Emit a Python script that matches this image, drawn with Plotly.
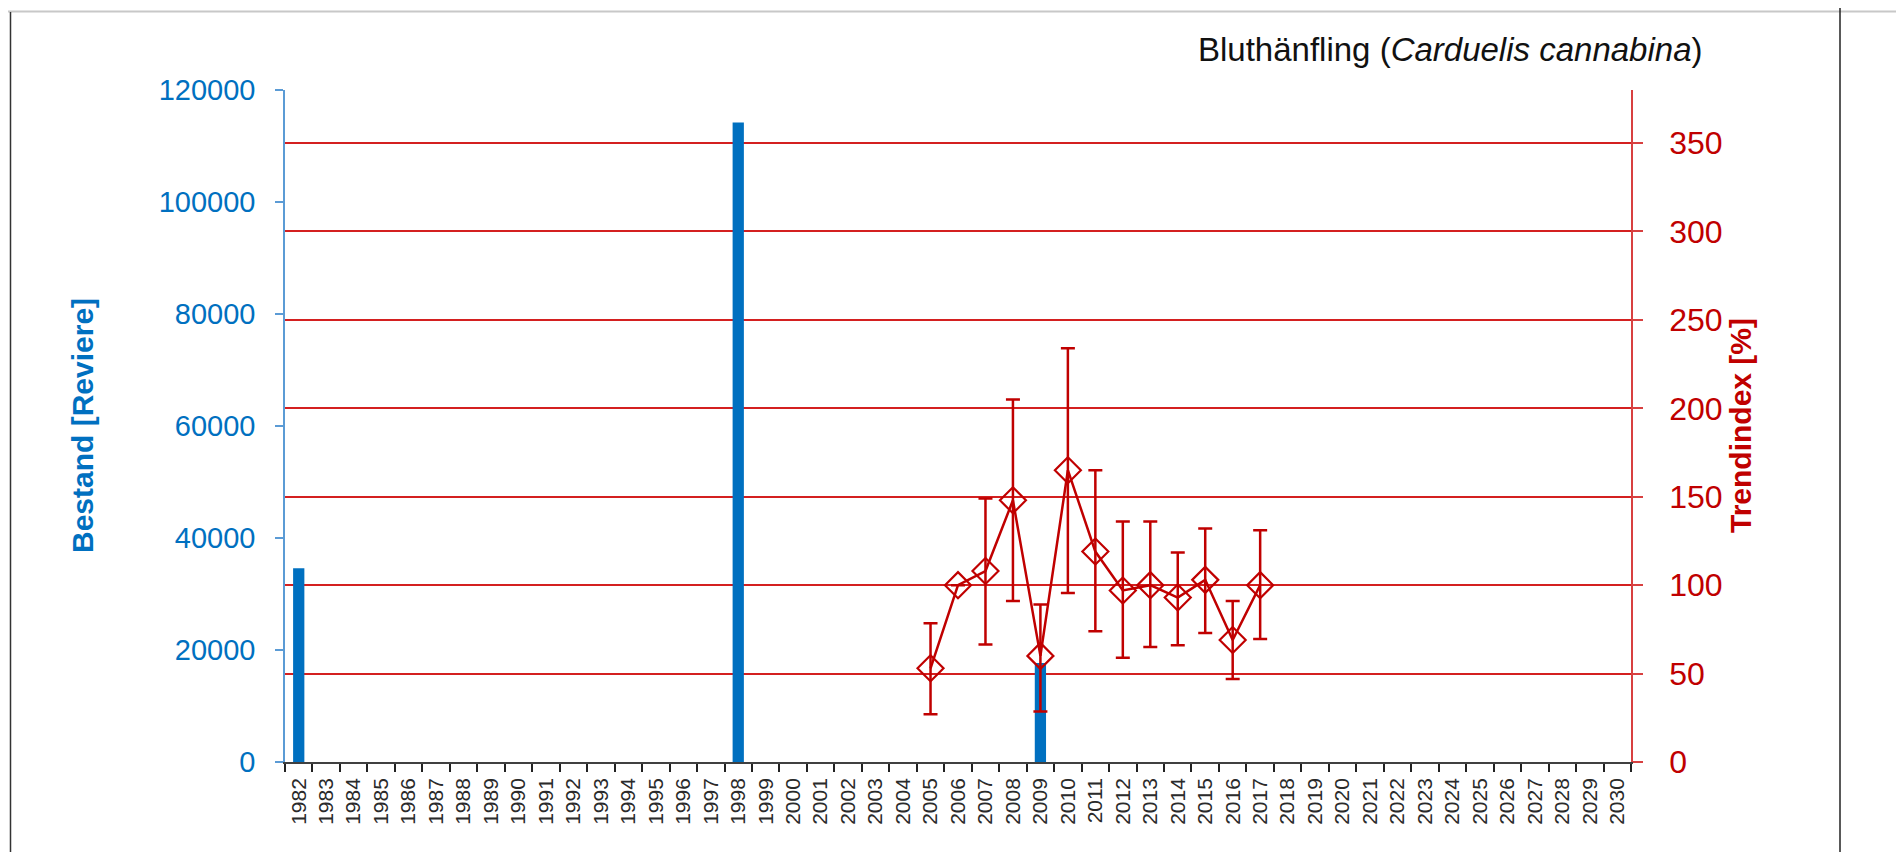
import plotly.graph_objects as go

# ---------------- data ----------------
years = [str(y) for y in range(1982, 2031)]

bar_years = ["1982", "1998", "2009"]
bar_values = [34600, 114200, 17700]

trend_years = ["2005", "2006", "2007", "2008", "2009", "2010", "2011",
               "2012", "2013", "2014", "2015", "2016", "2017"]
trend_values = [53, 100, 108, 148, 60, 165, 119, 97, 100, 93, 103, 69, 100]
trend_upper = [78.5, None, 149, 205, 89, 234, 165, 136, 136, 118.5, 132, 91, 131]
trend_lower = [27, None, 66.5, 91, 28.5, 95.5, 74, 59, 65, 66, 73, 47, 69.5]

left_ticks = [0, 20000, 40000, 60000, 80000, 100000, 120000]
right_ticks = [0, 50, 100, 150, 200, 250, 300, 350]

title_main = "Bluthänfling ("
title_italic = "Carduelis cannabina"
left_title = "Bestand [Reviere]"
right_title = "Trendindex [%]"

# ---------------- geometry (screen pixels) ----------------
OFF = 8                      # default page body margin
W, H = 1904 - OFF, 852 - OFF
L, R, T, B = 285, 1631, 90, 762
PW, PH = R - L, B - T


def px(x):
    return (x - L) / PW


def py(y):
    return (B - y) / PH


BLUE = "#0070C0"
RED = "#C00000"
FONT = "Liberation Sans, Arial, sans-serif"

err_plus = [None if u is None else u - v for u, v in zip(trend_upper, trend_values)]
err_minus = [None if lo is None else v - lo for lo, v in zip(trend_lower, trend_values)]

fig = go.Figure()

fig.add_trace(go.Bar(
    x=bar_years, y=bar_values, width=0.41,
    marker=dict(color=BLUE, line=dict(width=0)),
    yaxis="y", hoverinfo="skip",
))

fig.add_trace(go.Scatter(
    x=trend_years, y=trend_values, yaxis="y2", mode="lines+markers",
    line=dict(color=RED, width=2.5),
    marker=dict(symbol="diamond-open", size=20, color=RED, line=dict(color=RED, width=2.2)),
    error_y=dict(type="data", symmetric=False, array=err_plus, arrayminus=err_minus,
                 color=RED, thickness=2.5, width=7),
    hoverinfo="skip",
))

fig.update_layout(
    width=W, height=H,
    margin=dict(l=L - OFF, r=W - (R - OFF), t=T - OFF, b=H - (B - OFF), pad=0),
    paper_bgcolor="white", plot_bgcolor="white",
    showlegend=False,
    font=dict(family=FONT),
    xaxis=dict(
        type="category", categoryorder="array", categoryarray=years,
        range=[-0.5, len(years) - 0.5],
        tickmode="array", tickvals=years, ticktext=years,
        tickangle=-90, tickfont=dict(size=21, color="#2a2a2a", family=FONT),
        ticks="outside", ticklen=8, tickwidth=1.5, tickcolor="#222222",
        tickson="boundaries",
        showline=True, linecolor="#404040", linewidth=1.5,
        showgrid=False, zeroline=False, fixedrange=True,
        ticklabelstandoff=6,
    ),
    yaxis=dict(
        range=[0, 120000], tickmode="array", tickvals=left_ticks,
        ticktext=[str(v) for v in left_ticks],
        tickfont=dict(size=29, color=BLUE, family=FONT),
        ticks="outside", ticklen=8, tickwidth=1.5, tickcolor="#5B9BD5",
        showline=True, linecolor="#5B9BD5", linewidth=1.5,
        showgrid=False, zeroline=False, fixedrange=True,
        ticklabelstandoff=14,
    ),
    yaxis2=dict(
        range=[0, 380], overlaying="y", side="right", anchor="x",
        tickmode="array", tickvals=right_ticks,
        ticktext=[str(v) for v in right_ticks],
        tickfont=dict(size=32, color=RED, family=FONT),
        ticks="outside", ticklen=10, tickwidth=1.5, tickcolor="#D84040",
        showline=True, linecolor="#D84040", linewidth=1.5,
        showgrid=True, gridcolor="#D42020", gridwidth=1.5,
        zeroline=False, fixedrange=True,
        ticklabelstandoff=20,
    ),
)

annotations = [
    dict(text=f"{title_main}<i>{title_italic}</i>)", xref="paper", yref="paper",
         x=px(1705), y=py(50), xanchor="right", yanchor="middle", showarrow=False,
         font=dict(size=33, color="#111111", family=FONT)),
    dict(text=f"<b>{left_title}</b>", xref="paper", yref="paper",
         x=px(82), y=py(426), xanchor="center", yanchor="middle", showarrow=False,
         textangle=-90, font=dict(size=30, color=BLUE, family=FONT)),
    dict(text=f"<b>{right_title}</b>", xref="paper", yref="paper",
         x=px(1740), y=py(426), xanchor="center", yanchor="middle", showarrow=False,
         textangle=-90, font=dict(size=30, color=RED, family=FONT)),
]
fig.update_layout(annotations=annotations)

shapes = [
    # top grey border
    dict(type="line", xref="paper", yref="paper", x0=px(0), x1=px(1904), y0=py(11.5), y1=py(11.5),
         line=dict(color="#C8C8C8", width=2)),
    # left black border
    dict(type="line", xref="paper", yref="paper", x0=px(10.5), x1=px(10.5), y0=py(12), y1=py(852),
         line=dict(color="#333333", width=1.5)),
    # right black border
    dict(type="line", xref="paper", yref="paper", x0=px(1840), x1=px(1840), y0=py(0), y1=py(852),
         line=dict(color="#222222", width=1.5)),
]
fig.update_layout(shapes=shapes)

fig.write_html("out.html", config={"displayModeBar": False})
